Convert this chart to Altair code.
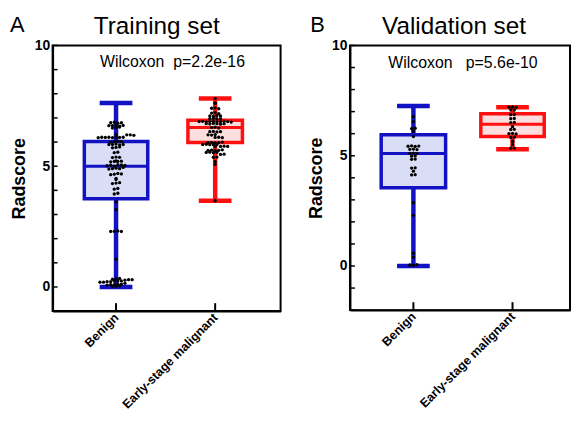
import altair as alt
import pandas as pd

groups = ["Benign", "Early-stage malignant"]

# ---- individual radscores ----
train_benign = [0.02, 0.03, 0.05, 0.08, 0.1, 0.1, 0.12, 0.12, 0.15, 0.2, 0.2, 0.22, 0.22,
                0.25, 0.25, 0.25, 0.28, 0.3, 0.3, 0.32, 0.33, 0.35,
                1.15, 2.3, 2.3, 2.32, 2.3, 3.2, 3.52, 3.85, 3.88, 4.05, 4.08, 4.28, 4.3, 4.32,
                4.45, 4.5, 4.65, 4.67, 4.7, 4.68, 4.88, 4.9, 4.92, 4.9, 4.95, 5.02, 5.04, 5.0,
                5.06, 5.05, 5.03, 5.18, 5.2, 5.22, 5.2, 5.21, 5.36, 5.38, 5.37, 5.56, 5.58,
                5.76, 5.78, 5.8, 5.9, 5.9, 5.92, 5.88, 5.9, 6.0, 6.02, 6.04, 6.02, 6.18, 6.2,
                6.19, 6.2, 6.18, 6.21, 6.19, 6.2, 6.3, 6.3, 6.32, 6.28, 6.58, 6.6, 6.62, 6.68,
                6.68, 6.7, 6.66, 6.69, 6.8, 6.82, 6.78, 6.8]
train_malig = [7.8, 7.6, 7.62, 7.4, 7.42, 7.38, 7.2, 7.22, 7.18, 7.08, 7.06, 7.1, 7.08,
               6.97, 6.98, 6.96, 6.97, 6.85, 6.86, 6.84, 6.85, 6.86, 6.84, 6.85, 6.87, 6.85,
               6.83, 6.76, 6.75, 6.77, 6.76, 6.74, 6.76, 6.6, 6.62, 6.58, 6.43, 6.44, 6.42,
               6.43, 6.3, 6.31, 6.29, 6.19, 6.2, 6.18, 5.98, 5.99, 5.97, 5.98, 6.0, 5.9, 5.91,
               5.89, 5.9, 5.9, 5.82, 5.81, 5.83, 5.82, 5.66, 5.67, 5.65, 5.66, 5.68, 5.57,
               5.58, 5.56, 5.57, 5.49, 5.5, 5.37, 5.38, 5.2, 5.08, 3.57]
val_benign = [6.77, 6.55, 6.23, 6.25, 6.1, 5.87, 5.43, 5.45, 5.42, 5.44, 5.29, 5.3, 5.28,
              5.11, 5.12, 5.1, 4.98, 4.99, 4.84, 4.85, 4.44, 4.45, 4.3, 4.13, 4.14, 2.87,
              2.3, 0.58, 0.4, 0.05, 0.03, 0.06]
val_malig = [7.2, 7.21, 7.19, 7.08, 7.07, 6.86, 6.87, 6.68, 6.69, 6.5, 6.51, 6.32, 6.19,
             6.2, 6.0, 6.01, 5.99, 5.83, 5.84, 5.65, 5.66, 5.5, 5.34, 5.35]

# ---- box summaries (Benign, Early-stage malignant) ----
train_min = [0.0, 3.57]
train_q1 = [3.65, 5.98]
train_median = [5.0, 6.6]
train_q3 = [6.02, 6.9]
train_max = [7.62, 7.8]

val_min = [0.0, 5.29]
val_q1 = [3.55, 5.87]
val_median = [5.1, 6.43]
val_q3 = [5.95, 6.9]
val_max = [7.26, 7.2]

titles = ["Training set", "Validation set"]
letters = ["A", "B"]
notes = ["Wilcoxon\u00a0\u00a0p=2.2e-16", "Wilcoxon\u00a0\u00a0\u00a0p=5.6e-10"]
y_label_values = [0, 5, 10]

BLUE = "#1212c2"
RED = "#ff1010"
BLUE_FILL = "#d9ddf6"
RED_FILL = "#fcdede"
FONT = "Liberation Sans"
PX_PER_UNIT = 100


def swarm(values, idx, bin_size, step):
    df = pd.DataFrame({"v": values})
    df["bin"] = (df["v"] / bin_size).round()
    df["rank"] = df.groupby("bin").cumcount()
    df["n"] = df.groupby("bin")["v"].transform("size")
    df["x"] = idx + (df["rank"] - (df["n"] - 1) / 2) * step
    return df


def panel(k, benign, malig, mins, q1s, meds, q3s, maxs, y_lo, width, height,
          box_half, note_x, note_y, bin_size, letter_x):
    xs = alt.Scale(domain=[-0.64, width / PX_PER_UNIT - 0.64], nice=False, zero=False)
    ys = alt.Scale(domain=[y_lo, 10], nice=False, zero=False)
    color = alt.Color("group:N", scale=alt.Scale(domain=groups, range=[BLUE, RED]), legend=None)
    fill = alt.Fill("group:N", scale=alt.Scale(domain=groups, range=[BLUE_FILL, RED_FILL]), legend=None)

    stats = pd.DataFrame({"group": groups, "idx": [0, 1], "lo": mins, "q1": q1s,
                          "med": meds, "q3": q3s, "hi": maxs, "half": box_half})
    stats["left"] = stats["idx"] - stats["half"]
    stats["right"] = stats["idx"] + stats["half"]
    stats["capl"] = stats["idx"] - 0.165
    stats["capr"] = stats["idx"] + 0.165

    pts = pd.concat([swarm(benign, 0, bin_size, 0.036), swarm(malig, 1, bin_size, 0.036)])

    label_expr = f"datum.value == 0 ? '{groups[0]}' : '{groups[1]}'"
    xaxis = alt.Axis(values=[0, 1], labelExpr=label_expr, labelAngle=315, labelAlign="right",
                     labelBaseline="middle", labelFontWeight="bold", labelFontSize=12.5,
                     labelPadding=4, tickSize=0, grid=False, title=None, labelFont=FONT,
                     domainColor="black", domainWidth=2, labelColor="black")
    yaxis = alt.Axis(values=y_label_values, tickSize=0, grid=False, title="Radscore",
                     titleFontSize=18, titleFontWeight="bold", titleFont=FONT, titlePadding=6,
                     labelFontWeight="bold", labelFontSize=14, labelFont=FONT, labelPadding=3,
                     domainColor="black", domainWidth=2, labelColor="black", titleColor="black")

    def X(f):
        return alt.X(f, scale=xs, axis=xaxis)

    def Y(f):
        return alt.Y(f, scale=ys, axis=yaxis)

    base = alt.Chart(stats)
    box = base.mark_rect(strokeWidth=3.5).encode(
        x=X("left:Q"), x2="right:Q", y=Y("q1:Q"), y2="q3:Q", stroke=color, fill=fill)
    wlo = base.mark_rule(strokeWidth=4.5).encode(x=X("idx:Q"), y=Y("lo:Q"), y2="q1:Q", color=color)
    whi = base.mark_rule(strokeWidth=4.5).encode(x=X("idx:Q"), y=Y("q3:Q"), y2="hi:Q", color=color)
    caplo = base.mark_rule(strokeWidth=4.5).encode(x=X("capl:Q"), x2="capr:Q", y=Y("lo:Q"), color=color)
    caphi = base.mark_rule(strokeWidth=4.5).encode(x=X("capl:Q"), x2="capr:Q", y=Y("hi:Q"), color=color)
    med = base.mark_rule(strokeWidth=3).encode(x=X("left:Q"), x2="right:Q", y=Y("med:Q"), color=color)
    dots = alt.Chart(pts).mark_circle(size=11, color="black", opacity=1).encode(
        x=X("x:Q"), y=Y("v:Q"))

    yt = alt.Chart(pd.DataFrame({"t": list(range(y_lo, 11))})).mark_rule(
        color="black", strokeWidth=1.5).encode(y=Y("t:Q"), x=alt.value(0), x2=alt.value(5))
    xt = alt.Chart(pd.DataFrame({"t": [0, 1]})).mark_rule(
        color="black", strokeWidth=2).encode(x=X("t:Q"), y=alt.value(height), y2=alt.value(height - 8))

    note = alt.Chart(pd.DataFrame({"x": [note_x], "y": [note_y], "s": [notes[k]]})).mark_text(
        font=FONT, fontSize=16, color="black").encode(x=X("x:Q"), y=Y("y:Q"), text="s:N")
    letter = alt.Chart(pd.DataFrame({"s": [letters[k]]})).mark_text(
        font=FONT, fontSize=22, color="black", align="left", baseline="middle").encode(
        x=alt.value(letter_x), y=alt.value(-21), text="s:N")
    ttl = alt.Chart(pd.DataFrame({"s": [titles[k]]})).mark_text(
        font=FONT, fontSize=24.5, color="black", align="center", baseline="middle").encode(
        x=alt.value(105), y=alt.value(-19), text="s:N")

    return alt.layer(box, wlo, whi, caplo, caphi, med, dots, yt, xt, note, letter, ttl).properties(
        width=width, height=height)


a = panel(0, train_benign, train_malig, train_min, train_q1, train_median, train_q3, train_max,
          -1, 230, 268, [0.32, 0.275], 0.57, 9.3, 0.12, -43)
b = panel(1, val_benign, val_malig, val_min, val_q1, val_median, val_q3, val_max,
          -2, 222, 267, [0.325, 0.32], 0.5, 9.19, 0.13, -40)

chart = alt.hconcat(a, b, spacing=25).properties(
    padding={"left": 1, "top": 3, "right": 0, "bottom": 0}
).configure_view(stroke="black", strokeWidth=2)

chart.save("out.html", embed_options={"renderer": "svg", "actions": False})
